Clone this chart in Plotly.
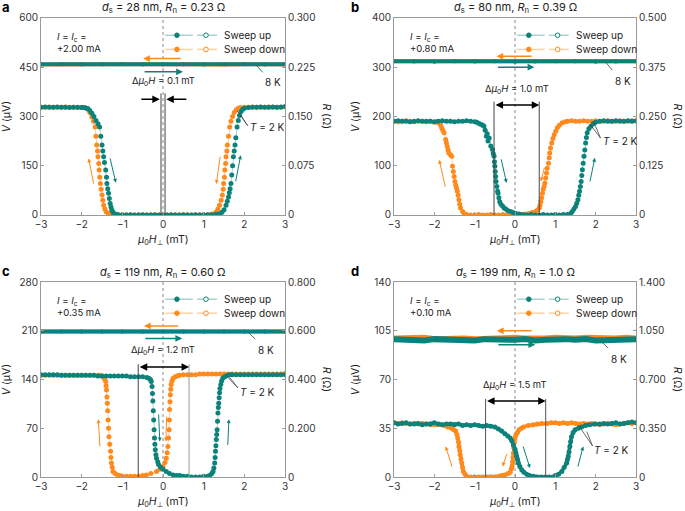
import plotly.graph_objects as go

TEAL = '#0b827a'
ORANGE = '#ff8a1c'
TEAL_L = 'rgba(11,130,122,0.35)'
ORANGE_L = 'rgba(255,138,28,0.4)'
GRID = '#9a9a9a'
FONT = 'Inter'

# ---------------- data: (mu0H [mT], V [uV]) ----------------
x_ticks = [-3, -2, -1, 0, 1, 2, 3]

# panel a
a_title = '<i>d</i><sub>s</sub> = 28 nm, <i>R</i><sub>n</sub> = 0.23 Ω'
a_current = '+2.00 mA'
a_vticks = [0, 150, 300, 450, 600]
a_rticks = ['0', '0.075', '0.150', '0.225', '0.300']
a_up_2K = [(-3.0,328),(-2.9,329),(-2.8,328),(-2.7,328),(-2.6,329),(-2.5,328),(-2.4,328),(-2.3,327),(-2.2,328),(-2.1,328),(-2.0,327),(-1.95,327),(-1.9,326),(-1.85,324),(-1.8,318),(-1.75,310),(-1.7,300),(-1.65,288),(-1.6,278),(-1.56,268),(-1.53,240),(-1.5,213),(-1.48,195),(-1.46,177),(-1.44,160),(-1.41,137),(-1.39,115),(-1.38,96),(-1.36,80),(-1.34,66),(-1.32,50),(-1.3,35),(-1.28,24),(-1.26,15),(-1.23,8),(-1.2,4),(-1.15,2),(-1.1,1),(-1.0,1),(-0.9,0),(-0.8,1),(-0.7,0),(-0.6,0),(-0.5,1),(-0.4,0),(-0.3,0),(-0.2,1),(-0.1,0),(0.0,0),(0.1,0),(0.2,1),(0.3,0),(0.4,0),(0.5,1),(0.6,0),(0.7,0),(0.8,1),(0.9,0),(1.0,1),(1.1,1),(1.2,1),(1.3,2),(1.35,2),(1.4,4),(1.45,8),(1.5,16),(1.55,30),(1.58,42),(1.61,55),(1.63,68),(1.65,80),(1.67,96),(1.69,122),(1.71,150),(1.73,177),(1.75,195),(1.77,213),(1.79,235),(1.82,268),(1.85,288),(1.88,303),(1.92,315),(1.96,322),(2.0,325),(2.1,327),(2.2,328),(2.3,328),(2.4,329),(2.5,328),(2.6,328),(2.7,329),(2.8,328),(2.9,329),(3.0,330)]
a_down_2K = [(-3.0,328),(-2.9,328),(-2.8,329),(-2.7,328),(-2.6,328),(-2.5,328),(-2.4,329),(-2.3,328),(-2.2,328),(-2.1,327),(-2.0,327),(-1.95,327),(-1.9,326),(-1.85,322),(-1.8,312),(-1.75,298),(-1.71,285),(-1.67,268),(-1.65,240),(-1.63,213),(-1.61,195),(-1.6,177),(-1.58,157),(-1.57,137),(-1.555,115),(-1.54,96),(-1.52,78),(-1.5,61),(-1.48,45),(-1.46,30),(-1.43,18),(-1.4,10),(-1.35,5),(-1.3,2),(-1.25,1),(-1.2,1),(-1.1,0),(-1.0,0),(-0.9,1),(-0.8,0),(-0.7,0),(-0.6,1),(-0.5,0),(-0.4,0),(-0.3,1),(-0.2,0),(-0.1,0),(0.0,1),(0.1,0),(0.2,0),(0.3,1),(0.4,0),(0.5,0),(0.6,1),(0.7,0),(0.8,0),(0.9,1),(1.0,1),(1.1,1),(1.19,2),(1.25,4),(1.31,10),(1.35,18),(1.39,30),(1.43,45),(1.46,61),(1.48,78),(1.49,96),(1.51,115),(1.52,137),(1.54,157),(1.55,177),(1.57,195),(1.58,213),(1.61,240),(1.64,268),(1.67,285),(1.71,300),(1.75,312),(1.8,320),(1.85,325),(1.9,327),(2.0,328),(2.1,328),(2.2,329),(2.3,328),(2.4,328),(2.5,328),(2.6,329),(2.7,328),(2.8,328),(2.9,328),(3.0,329)]
a_up_8K = [(-3.0,459),(-2.5,459),(-2.0,458),(-1.5,459),(-1.0,459),(-0.5,458),(0.0,459),(0.5,459),(1.0,458),(1.5,459),(2.0,459),(2.5,458),(3.0,459)]
a_down_8K = [(-3.0,458),(-2.5,459),(-2.0,459),(-1.5,458),(-1.0,459),(-0.5,459),(0.0,458),(0.5,459),(1.0,459),(1.5,458),(2.0,459),(2.5,459),(3.0,458)]

# panel b
b_title = '<i>d</i><sub>s</sub> = 80 nm, <i>R</i><sub>n</sub> = 0.39 Ω'
b_current = '+0.80 mA'
b_vticks = [0, 100, 200, 300, 400]
b_rticks = ['0', '0.125', '0.250', '0.375', '0.500']
b_up_2K = [(-3.0,190),(-2.9,191),(-2.8,190),(-2.7,190),(-2.6,189),(-2.5,190),(-2.4,191),(-2.3,190),(-2.2,190),(-2.1,190),(-2.0,189),(-1.9,190),(-1.8,191),(-1.7,190),(-1.6,190),(-1.5,189),(-1.4,190),(-1.3,190),(-1.2,191),(-1.1,190),(-1.0,189),(-0.95,188),(-0.9,186),(-0.85,184),(-0.8,182),(-0.77,180),(-0.74,172),(-0.71,160),(-0.69,165),(-0.67,150),(-0.64,156),(-0.6,140),(-0.56,133),(-0.54,125),(-0.52,119),(-0.51,108),(-0.5,99),(-0.49,88),(-0.48,78),(-0.47,68),(-0.45,58),(-0.43,48),(-0.42,44),(-0.4,35),(-0.38,27),(-0.35,22),(-0.31,18),(-0.27,14),(-0.23,12),(-0.18,9),(-0.11,7),(-0.05,5),(0.02,3),(0.1,2),(0.2,1),(0.3,0),(0.4,1),(0.5,0),(0.6,0),(0.7,1),(0.8,0),(0.9,0),(1.0,1),(1.1,0),(1.2,1),(1.3,1),(1.38,3),(1.42,7),(1.46,12),(1.5,17),(1.53,24),(1.56,31),(1.58,40),(1.6,48),(1.62,58),(1.64,68),(1.655,80),(1.67,92),(1.69,105),(1.71,119),(1.73,132),(1.75,146),(1.77,157),(1.79,167),(1.83,175),(1.88,180),(1.94,185),(2.0,188),(2.1,190),(2.2,191),(2.3,190),(2.4,190),(2.5,191),(2.6,190),(2.7,190),(2.8,191),(2.9,190),(3.0,191)]
b_down_2K = [(-3.0,190),(-2.9,189),(-2.8,190),(-2.7,191),(-2.6,190),(-2.5,189),(-2.4,190),(-2.3,190),(-2.2,189),(-2.1,190),(-2.0,188),(-1.95,189),(-1.9,187),(-1.85,183),(-1.82,177),(-1.79,172),(-1.76,167),(-1.72,153),(-1.7,146),(-1.68,139),(-1.66,132),(-1.64,126),(-1.6,122),(-1.57,119),(-1.55,99),(-1.53,88),(-1.51,78),(-1.49,68),(-1.47,61),(-1.45,55),(-1.43,48),(-1.41,40),(-1.39,31),(-1.37,22),(-1.35,14),(-1.3,7),(-1.26,3),(-1.2,1),(-1.1,0),(-1.0,0),(-0.9,1),(-0.8,0),(-0.7,0),(-0.6,1),(-0.5,0),(-0.4,0),(-0.3,1),(-0.2,0),(-0.1,0),(0.0,1),(0.1,1),(0.18,1),(0.27,2),(0.35,3),(0.43,5),(0.51,7),(0.56,10),(0.6,14),(0.62,20),(0.64,27),(0.66,35),(0.68,44),(0.7,52),(0.72,58),(0.74,65),(0.76,75),(0.78,85),(0.8,95),(0.83,105),(0.85,116),(0.86,126),(0.88,136),(0.91,146),(0.94,155),(0.97,163),(1.01,170),(1.05,177),(1.1,182),(1.17,187),(1.25,189),(1.3,190),(1.4,191),(1.5,190),(1.6,190),(1.7,191),(1.8,190),(1.9,190),(2.0,191),(2.1,190),(2.2,190),(2.3,191),(2.4,190),(2.5,190),(2.6,191),(2.7,190),(2.8,190),(2.9,191),(3.0,190)]
b_up_8K = [(-3.0,312),(-2.5,312),(-2.0,311),(-1.5,312),(-1.0,312),(-0.5,312),(0.0,311),(0.5,312),(1.0,312),(1.5,312),(2.0,311),(2.5,312),(3.0,312)]
b_down_8K = [(-3.0,312),(-2.5,311),(-2.0,312),(-1.5,312),(-1.0,311),(-0.5,312),(0.0,312),(0.5,311),(1.0,312),(1.5,312),(2.0,312),(2.5,311),(3.0,312)]

# panel c
c_title = '<i>d</i><sub>s</sub> = 119 nm, <i>R</i><sub>n</sub> = 0.60 Ω'
c_current = '+0.35 mA'
c_vticks = [0, 70, 140, 210, 280]
c_rticks = ['0', '0.200', '0.400', '0.600', '0.800']
c_up_2K = [(-3.0,147),(-2.9,147),(-2.8,147),(-2.7,147),(-2.6,147),(-2.5,146),(-2.4,146),(-2.3,146),(-2.2,146),(-2.1,146),(-2.0,146),(-1.9,146),(-1.8,146),(-1.7,146),(-1.6,145),(-1.5,145),(-1.4,145),(-1.3,145),(-1.2,145),(-1.1,145),(-1.0,145),(-0.9,145),(-0.8,144),(-0.7,144),(-0.6,144),(-0.5,144),(-0.4,143),(-0.35,142),(-0.31,140),(-0.29,137),(-0.27,130),(-0.26,120),(-0.25,109),(-0.24,95),(-0.23,82),(-0.22,68),(-0.21,56),(-0.2,47),(-0.19,39),(-0.175,32),(-0.16,27),(-0.13,22),(-0.11,18),(-0.06,14),(0.0,11),(0.08,8),(0.16,5),(0.25,3),(0.33,2),(0.41,2),(0.5,1),(0.6,1),(0.7,0),(0.8,0),(0.9,0),(1.0,1),(1.1,1),(1.15,2),(1.2,5),(1.23,8),(1.25,13),(1.27,20),(1.28,28),(1.29,37),(1.3,45),(1.31,54),(1.32,61),(1.33,68),(1.34,80),(1.35,92),(1.36,100),(1.37,106),(1.38,114),(1.39,121),(1.4,127),(1.42,133),(1.44,138),(1.47,142),(1.52,144),(1.58,146),(1.64,147),(1.7,147),(1.8,147),(1.9,147),(2.0,147),(2.1,147),(2.2,147),(2.3,147),(2.4,147),(2.5,147),(2.6,147),(2.7,147),(2.8,147),(2.9,147),(3.0,147)]
c_down_2K = [(-3.0,146),(-2.9,146),(-2.8,146),(-2.7,146),(-2.6,146),(-2.5,146),(-2.4,146),(-2.3,146),(-2.2,146),(-2.1,146),(-2.0,146),(-1.9,146),(-1.8,146),(-1.7,146),(-1.6,146),(-1.55,146),(-1.5,145),(-1.47,144),(-1.44,141),(-1.41,137),(-1.4,131),(-1.39,125),(-1.38,115),(-1.37,106),(-1.36,95),(-1.35,82),(-1.34,70),(-1.33,58),(-1.31,47),(-1.29,37),(-1.28,28),(-1.27,20),(-1.25,14),(-1.23,8),(-1.18,5),(-1.12,3),(-1.06,2),(-1.0,1),(-0.9,1),(-0.8,1),(-0.7,1),(-0.6,1),(-0.5,2),(-0.41,3),(-0.3,5),(-0.16,8),(-0.08,11),(0.0,15),(0.05,21),(0.08,27),(0.1,35),(0.12,44),(0.135,56),(0.15,68),(0.155,82),(0.16,97),(0.17,108),(0.18,118),(0.19,126),(0.2,133),(0.22,138),(0.25,142),(0.3,144),(0.35,145),(0.4,146),(0.5,147),(0.6,147),(0.7,147),(0.8,147),(0.9,148),(1.0,148),(1.1,148),(1.2,148),(1.3,148),(1.4,148),(1.5,148),(1.6,148),(1.7,148),(1.8,148),(1.9,148),(2.0,148),(2.1,148),(2.2,148),(2.3,148),(2.4,148),(2.5,148),(2.6,148),(2.7,148),(2.8,148),(2.9,148),(3.0,149)]
c_up_8K = [(-3.0,209),(-2.5,209),(-2.0,209),(-1.5,209),(-1.0,209),(-0.5,209),(0.0,209),(0.5,209),(1.0,209),(1.5,209),(2.0,209),(2.5,209),(3.0,209)]
c_down_8K = [(-3.0,209),(-2.5,209),(-2.0,209),(-1.5,209),(-1.0,209),(-0.5,209),(0.0,209),(0.5,209),(1.0,209),(1.5,209),(2.0,209),(2.5,209),(3.0,209)]

# panel d
d_title = '<i>d</i><sub>s</sub> = 199 nm, <i>R</i><sub>n</sub> = 1.0 Ω'
d_current = '+0.10 mA'
d_vticks = [0, 35, 70, 105, 140]
d_rticks = ['0', '0.350', '0.700', '1.050', '1.400']
d_up_2K = [(-3.0,39),(-2.9,38),(-2.8,38.5),(-2.7,39),(-2.6,38),(-2.5,38),(-2.4,38.5),(-2.3,37.5),(-2.2,38),(-2.1,38),(-2.0,39),(-1.9,38),(-1.8,37.5),(-1.7,38),(-1.6,38),(-1.5,37.5),(-1.4,38),(-1.3,37),(-1.2,37.5),(-1.1,37),(-1.0,37.5),(-0.9,37),(-0.8,36.5),(-0.7,37),(-0.6,36.5),(-0.5,36),(-0.41,34.5),(-0.33,33),(-0.25,31),(-0.18,29.5),(-0.12,28),(-0.08,26),(-0.04,23),(0.0,20),(0.02,17.5),(0.04,15),(0.06,12.5),(0.08,10),(0.12,7.5),(0.17,5),(0.22,3.5),(0.29,2),(0.36,1),(0.45,0.5),(0.55,0),(0.65,0),(0.75,0),(0.85,0),(0.95,0),(1.0,1),(1.08,2),(1.16,4),(1.22,7),(1.28,10),(1.3,12.5),(1.32,15),(1.34,18),(1.36,22),(1.38,25.5),(1.4,29),(1.44,32),(1.49,34),(1.57,35),(1.65,36),(1.75,37),(1.85,37.5),(1.98,38),(2.1,38),(2.2,38.5),(2.3,38),(2.4,38.5),(2.5,39),(2.6,38),(2.7,38.5),(2.8,39),(2.9,39.5),(3.0,39)]
d_down_2K = [(-3.0,39),(-2.9,38.5),(-2.8,39),(-2.7,38.5),(-2.6,38),(-2.5,38.5),(-2.4,38),(-2.3,38.5),(-2.2,38),(-2.1,37.5),(-2.0,37.5),(-1.9,37.5),(-1.82,37.5),(-1.75,37),(-1.67,36),(-1.57,35),(-1.52,34),(-1.47,33),(-1.44,30.5),(-1.42,28),(-1.4,25),(-1.39,22),(-1.37,19),(-1.36,16),(-1.34,13),(-1.32,10),(-1.3,7),(-1.28,4),(-1.24,2),(-1.2,0.5),(-1.1,0),(-1.0,0),(-0.9,0),(-0.8,0),(-0.7,0),(-0.6,0),(-0.5,0),(-0.4,0.5),(-0.33,1),(-0.25,1.5),(-0.17,2.5),(-0.12,3.5),(-0.09,6),(-0.07,8),(-0.06,11),(-0.05,14),(-0.04,17),(-0.03,21),(-0.02,25),(0.0,28),(0.02,30),(0.06,32),(0.1,34),(0.16,35),(0.21,36),(0.33,37),(0.45,37.5),(0.55,38),(0.66,38.5),(0.8,38.5),(0.9,39),(1.0,39),(1.1,38.5),(1.2,39),(1.3,38.5),(1.4,39),(1.5,38.5),(1.6,38),(1.7,38.5),(1.8,38),(1.9,38.5),(2.0,38),(2.1,37.5),(2.2,38),(2.3,38.5),(2.4,38),(2.5,37.5),(2.6,38),(2.7,38.5),(2.8,39),(2.9,38.5),(3.0,39)]
d_up_8K = [(-3.0,99),(-2.75,98.5),(-2.5,99),(-2.25,98),(-2.0,99),(-1.75,98.5),(-1.5,99),(-1.25,98.5),(-1.0,98),(-0.75,99),(-0.5,98.5),(-0.25,99),(0.0,98.5),(0.25,99),(0.5,98),(0.75,98.5),(1.0,99),(1.25,99),(1.5,98.5),(1.75,99),(2.0,98),(2.25,98.5),(2.5,99),(2.75,98.5),(3.0,99)]
d_down_8K = [(-3.0,99.5),(-2.75,100),(-2.5,99.5),(-2.25,100),(-2.0,99),(-1.75,99.5),(-1.5,100),(-1.25,99.5),(-1.0,99),(-0.75,99.5),(-0.5,100),(-0.25,99.5),(0.0,100),(0.25,99.5),(0.5,99),(0.75,99.5),(1.0,100),(1.25,99.5),(1.5,99.5),(1.75,100),(2.0,99.5),(2.25,99),(2.5,99.5),(2.75,100),(3.0,99.5)]

# ---------------- layout helpers ----------------
fig = go.Figure()

XDOM = {'L': [0.0599, 0.4161], 'R': [0.5752, 0.9285]}
YDOM = {'T': [0.5793, 0.9650], 'B': [0.0665, 0.4481]}

panels = [
    dict(key='a', ax='x', ay='y', ar='y5', xd='L', yd='T', title=a_title, cur=a_current,
         vt=a_vticks, rt=a_rticks, up2=a_up_2K, dn2=a_down_2K, up8=a_up_8K, dn8=a_down_8K,
         lw=1, lc_up=TEAL_L, lc_dn=ORANGE_L),
    dict(key='b', ax='x2', ay='y2', ar='y6', xd='R', yd='T', title=b_title, cur=b_current,
         vt=b_vticks, rt=b_rticks, up2=b_up_2K, dn2=b_down_2K, up8=b_up_8K, dn8=b_down_8K,
         lw=1, lc_up=TEAL_L, lc_dn=ORANGE_L),
    dict(key='c', ax='x3', ay='y3', ar='y7', xd='L', yd='B', title=c_title, cur=c_current,
         vt=c_vticks, rt=c_rticks, up2=c_up_2K, dn2=c_down_2K, up8=c_up_8K, dn8=c_down_8K,
         lw=1, lc_up=TEAL_L, lc_dn=ORANGE_L),
    dict(key='d', ax='x4', ay='y4', ar='y8', xd='R', yd='B', title=d_title, cur=d_current,
         vt=d_vticks, rt=d_rticks, up2=d_up_2K, dn2=d_down_2K, up8=d_up_8K, dn8=d_down_8K,
         lw=3.5, lc_up=TEAL, lc_dn=ORANGE),
]

# decoration positions (mT, uV) per panel
deco = {
    'a': dict(harr=[(476, 0.47, -0.49, ORANGE), (436, -0.49, 0.49, TEAL)],
              vlines=[(-0.05, 370, '#444'), (0.05, 370, '#444')], inward=True, arr_y=352,
              inward_pts=[(-0.57, -0.08), (0.61, 0.08)], dlabel=('0.1', 0.0, 405),
              k8=[(2.29, 457, 2.45, 434)], k8t=(2.47, 430),
              t2=[(1.82, 318, 2.08, 272), (1.90, 306, 2.08, 272)], t2t=(2.08, 268),
              small=[(-1.70, 91, -1.83, 172, ORANGE), (-1.31, 177, -1.16, 98, TEAL),
                     (1.41, 182, 1.31, 94, ORANGE), (1.78, 98, 1.91, 182, TEAL)]),
    'b': dict(harr=[(322, 0.45, -0.46, ORANGE), (300, -0.46, 0.48, TEAL)],
              vlines=[(-0.52, 230, '#444'), (0.6, 230, '#444')], inward=False, arr_y=223,
              dlabel=('1.0', 0.05, 255),
              k8=[(2.25, 310, 2.41, 294)], k8t=(2.43, 288),
              t2=[(1.86, 184, 2.12, 156), (1.95, 189, 2.12, 156)], t2t=(2.12, 150),
              small=[(-1.72, 54, -1.88, 112, ORANGE), (-0.35, 116, -0.21, 65, TEAL),
                     (0.74, 99, 0.64, 68, ORANGE), (1.85, 65, 1.98, 116, TEAL)]),
    'c': dict(harr=[(217, 0.41, -0.47, ORANGE), (199, -0.47, 0.47, TEAL)],
              vlines=[(-0.61, 162, '#444'), (0.64, 162, '#999')], inward=False, arr_y=158,
              dlabel=('1.2', 0.0, 181),
              k8=[(2.09, 208, 2.27, 198)], k8t=(2.29, 194),
              t2=[(1.55, 146, 1.84, 128), (1.64, 143, 1.84, 128)], t2t=(1.84, 122),
              small=[(-1.55, 42, -1.59, 83, ORANGE), (-0.11, 92, -0.08, 51, TEAL),
                     (0.09, 89, 0.07, 51, ORANGE), (1.59, 44, 1.62, 83, TEAL)]),
    'd': dict(harr=[(105, 0.45, -0.45, ORANGE), (95, -0.45, 0.5, TEAL)],
              vlines=[(-0.73, 56, '#555'), (0.76, 56, '#555')], inward=False, arr_y=54.5,
              dlabel=('1.5', 0.0, 66),
              k8=[(2.15, 97, 2.31, 92.5)], k8t=(2.33, 90.5),
              t2=[(1.57, 37.4, 1.92, 22.4), (1.78, 32.6, 1.92, 22.4)], t2t=(1.92, 19.5),
              small=[(-1.55, 6.4, -1.72, 22, ORANGE), (-0.19, 17.6, -0.31, 7.6, ORANGE),
                     (0.19, 23, 0.37, 6.4, TEAL), (1.55, 6.4, 1.69, 22, TEAL)]),
}

shapes = []
annotations = []
layout = dict(
    width=685, height=511, margin=dict(l=0, r=0, t=0, b=0, autoexpand=False),
    plot_bgcolor='white', paper_bgcolor='white', showlegend=False,
    font=dict(family=FONT, size=10, color='#222'),
)

tick_font = dict(family=FONT, size=10, color='#333')

for p in panels:
    xa, ya, yr = p['ax'], p['ay'], p['ar']
    xkey = 'xaxis' + xa[1:]
    ykey = 'yaxis' + ya[1:]
    rkey = 'yaxis' + yr[1:]
    vmax = p['vt'][-1]
    layout[xkey] = dict(domain=XDOM[p['xd']], anchor=ya, range=[-3, 3], tickvals=x_ticks,
                        ticks='inside', ticklen=3, tickcolor=GRID, showline=True, linecolor=GRID,
                        linewidth=1, mirror=True, showgrid=False, zeroline=False, tickfont=tick_font,
                        automargin=False)
    layout[ykey] = dict(domain=YDOM[p['yd']], anchor=xa, range=[0, vmax], tickvals=p['vt'],
                        ticks='inside', ticklen=3, tickcolor=GRID, showline=True, linecolor=GRID,
                        linewidth=1, mirror=False, showgrid=False, zeroline=False, tickfont=tick_font,
                        automargin=False)
    layout[rkey] = dict(overlaying=ya, anchor=xa, side='right', range=[0, vmax], tickvals=p['vt'],
                        ticktext=p['rt'], ticks='inside', ticklen=3, tickcolor=GRID, showline=True,
                        linecolor=GRID, linewidth=1, showgrid=False, zeroline=False, tickfont=tick_font,
                        automargin=False)

    # traces
    ms = 5
    for data, col in ((p['dn8'], ORANGE), (p['up8'], TEAL)):
        xs, vs = zip(*data)
        fig.add_trace(go.Scatter(x=xs, y=vs, xaxis=xa, yaxis=ya, mode='lines+markers',
                                 line=dict(color=col, width=4 if p['key'] != 'd' else 6),
                                 marker=dict(color=col, size=4), hoverinfo='skip'))
    for data, col, lc in ((p['dn2'], ORANGE, p['lc_dn']), (p['up2'], TEAL, p['lc_up'])):
        xs, vs = zip(*data)
        fig.add_trace(go.Scatter(x=xs, y=vs, xaxis=xa, yaxis=ya, mode='lines+markers',
                                 line=dict(color=lc, width=p['lw']),
                                 marker=dict(color=col, size=ms), hoverinfo='skip'))
    # invisible copy on the right (R) axis so that it renders
    xs, vs = zip(*p['up8'])
    fig.add_trace(go.Scatter(x=xs, y=vs, xaxis=xa, yaxis=yr, mode='markers',
                             marker=dict(color='rgba(0,0,0,0)', size=1), hoverinfo='skip'))

    xd = XDOM[p['xd']]
    yd = YDOM[p['yd']]
    xc = (xd[0] + xd[1]) / 2
    left = p['xd'] == 'L'
    # title
    annotations.append(dict(text=p['title'], xref='paper', yref='paper', x=xc, y=yd[1] + 0.0195,
                            xanchor='center', yanchor='middle', showarrow=False,
                            font=dict(family=FONT, size=11, color='#222')))
    # panel letter
    annotations.append(dict(text='<b>' + p['key'] + '</b>', xref='paper', yref='paper',
                            x=xd[0] - 0.051 if left else xd[0] - 0.057, y=yd[1] + 0.021,
                            xanchor='center', yanchor='middle', showarrow=False,
                            font=dict(family=FONT, size=13, color='#000')))
    # axis titles
    annotations.append(dict(text='<i>V</i> (μV)', xref='paper', yref='paper',
                            x=xd[0] - (0.050 if left else 0.056), y=(yd[0] + yd[1]) / 2,
                            textangle=-90, xanchor='center', yanchor='middle', showarrow=False,
                            font=dict(family=FONT, size=10.5, color='#222')))
    annotations.append(dict(text='<i>R</i> (Ω)', xref='paper', yref='paper',
                            x=xd[1] + 0.061, y=(yd[0] + yd[1]) / 2, textangle=90,
                            xanchor='center', yanchor='middle', showarrow=False,
                            font=dict(family=FONT, size=10.5, color='#222')))
    annotations.append(dict(text='<i>μ</i><sub>0</sub><i>H</i><sub>⊥</sub> (mT)', xref='paper',
                            yref='paper', x=xc, y=yd[0] - 0.048, xanchor='center', yanchor='middle',
                            showarrow=False, font=dict(family=FONT, size=10.5, color='#222')))
    # current text
    annotations.append(dict(text='<i>I</i> = <i>I</i><sub>c</sub> =<br>' + p['cur'],
                            xref=xa + ' domain', yref=ya + ' domain', x=0.057, y=0.945,
                            xanchor='left', yanchor='top', align='left', showarrow=False,
                            font=dict(family=FONT, size=9.5, color='#222')))
    # legend
    for row_y, col, lcol, label in ((0.912, TEAL, TEAL_L, 'Sweep up'),
                                    (0.840, ORANGE, ORANGE_L, 'Sweep down')):
        for s0, s1 in ((0.508, 0.622), (0.640, 0.722)):
            shapes.append(dict(type='line', xref=xa + ' domain', yref=ya + ' domain',
                               x0=s0, x1=s1, y0=row_y, y1=row_y,
                               line=dict(color=lcol, width=1.5)))
        for cx, fill in ((0.557, col), (0.676, 'white')):
            shapes.append(dict(type='circle', xref=xa + ' domain', yref=ya + ' domain',
                               xsizemode='pixel', ysizemode='pixel', xanchor=cx, yanchor=row_y,
                               x0=-2.3, x1=2.3, y0=-2.3, y1=2.3, fillcolor=fill,
                               line=dict(color=col, width=1)))
        annotations.append(dict(text=label, xref=xa + ' domain', yref=ya + ' domain',
                                x=0.742, y=row_y, xanchor='left', yanchor='middle',
                                showarrow=False, font=dict(family=FONT, size=10, color='#222')))

    dd = deco[p['key']]
    # dotted zero line
    shapes.append(dict(type='line', xref=xa, yref=ya + ' domain', x0=0, x1=0, y0=0, y1=1,
                       line=dict(color='#888', width=1, dash='dot'), layer='below'))
    # vertical delta lines
    for vx, vtop, vc in dd['vlines']:
        shapes.append(dict(type='line', xref=xa, yref=ya, x0=vx, x1=vx, y0=0, y1=vtop,
                           line=dict(color=vc, width=1)))
    # double / inward arrows
    if dd['inward']:
        for tail, head in dd['inward_pts']:
            annotations.append(dict(text='', xref=xa, yref=ya, axref=xa, ayref=ya,
                                    x=head, y=dd['arr_y'], ax=tail, ay=dd['arr_y'], showarrow=True,
                                    arrowhead=2, arrowsize=1, arrowwidth=1.5, arrowcolor='#000',
                                    standoff=0, startstandoff=0))
    else:
        x0v, x1v = dd['vlines'][0][0], dd['vlines'][1][0]
        annotations.append(dict(text='', xref=xa, yref=ya, axref=xa, ayref=ya,
                                x=x1v, y=dd['arr_y'], ax=x0v, ay=dd['arr_y'], showarrow=True,
                                arrowhead=2, arrowsize=1, arrowwidth=1.5, arrowcolor='#000',
                                arrowside='end+start', standoff=0, startstandoff=0))
    lab, lx, ly = dd['dlabel']
    annotations.append(dict(text='Δ<i>μ</i><sub>0</sub><i>H</i> = ' + lab + ' mT', xref=xa, yref=ya,
                            x=lx, y=ly, xanchor='center', yanchor='middle', showarrow=False,
                            font=dict(family=FONT, size=9.5, color='#222')))
    # horizontal sweep arrows
    for hy, hx0, hx1, hc in dd['harr']:
        annotations.append(dict(text='', xref=xa, yref=ya, axref=xa, ayref=ya,
                                x=hx1, y=hy, ax=hx0, ay=hy, showarrow=True, arrowhead=2,
                                arrowsize=0.9, arrowwidth=1.5, arrowcolor=hc, standoff=0))
    # small arrows along curves
    for sx0, sy0, sx1, sy1, sc in dd['small']:
        annotations.append(dict(text='', xref=xa, yref=ya, axref=xa, ayref=ya,
                                x=sx1, y=sy1, ax=sx0, ay=sy0, showarrow=True, arrowhead=2,
                                arrowsize=0.8, arrowwidth=1, arrowcolor=sc, standoff=0))
    # 8 K label
    for lx0, ly0, lx1, ly1 in dd['k8']:
        shapes.append(dict(type='line', xref=xa, yref=ya, x0=lx0, y0=ly0, x1=lx1, y1=ly1,
                           line=dict(color='#444', width=0.8)))
    annotations.append(dict(text='8 K', xref=xa, yref=ya, x=dd['k8t'][0], y=dd['k8t'][1],
                            xanchor='left', yanchor='top', showarrow=False,
                            font=dict(family=FONT, size=10, color='#222')))
    # T = 2 K label
    for lx0, ly0, lx1, ly1 in dd['t2']:
        shapes.append(dict(type='line', xref=xa, yref=ya, x0=lx0, y0=ly0, x1=lx1, y1=ly1,
                           line=dict(color='#444', width=0.8)))
    annotations.append(dict(text='<i>T</i> = 2 K', xref=xa, yref=ya, x=dd['t2t'][0], y=dd['t2t'][1],
                            xanchor='left', yanchor='middle', showarrow=False,
                            font=dict(family=FONT, size=10, color='#222')))

layout['shapes'] = shapes
layout['annotations'] = annotations
fig.update_layout(**layout)
fig.write_html('out.html', config={'displayModeBar': False},
               post_script="document.body.style.margin='0';document.body.style.padding='0';")
